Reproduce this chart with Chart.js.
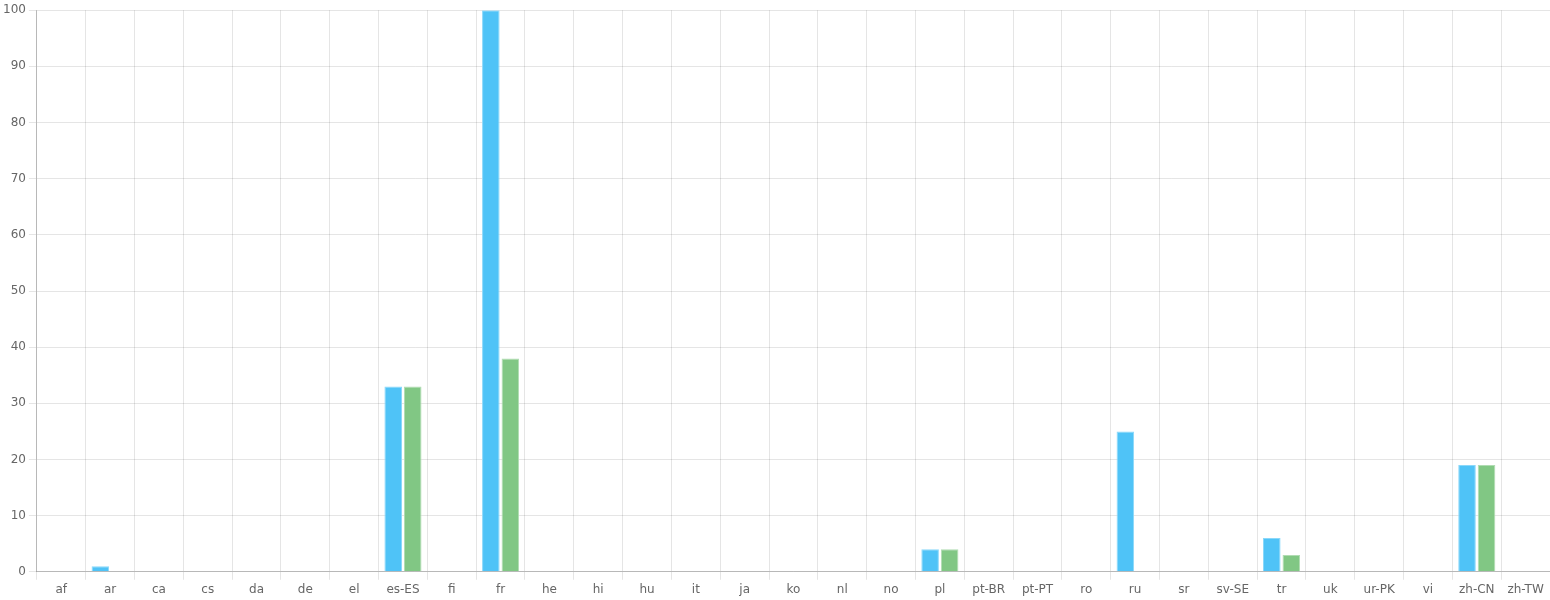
<!DOCTYPE html>
<html><head><meta charset="utf-8">
<script src="https://cdn.jsdelivr.net/npm/chart.js@4"></script>
<style>html,body{margin:0;padding:0;background:#fff}#w{width:1550px;height:600px}</style>
</head><body><div id="w"><canvas id="c"></canvas></div>
<script>
const categories = ["af","ar","ca","cs","da","de","el","es-ES","fi","fr","he","hi","hu","it","ja","ko","nl","no","pl","pt-BR","pt-PT","ro","ru","sr","sv-SE","tr","uk","ur-PK","vi","zh-CN","zh-TW"];
const seriesA = [0,1,0,0,0,0,0,33,0,100,0,0,0,0,0,0,0,0,4,0,0,0,25,0,0,6,0,0,0,19,0];
const seriesB = [0,0,0,0,0,0,0,33,0,38,0,0,0,0,0,0,0,0,4,0,0,0,0,0,0,3,0,0,0,19,0];
const yTicks = [0,10,20,30,40,50,60,70,80,90,100];

Chart.defaults.font.family = "'DejaVu Sans', sans-serif";
Chart.defaults.font.size = 12;
Chart.defaults.color = '#666';
new Chart(document.getElementById('c'), {
  type: 'bar',
  data: {
    labels: categories,
    datasets: [
      {data: seriesA, backgroundColor: '#4FC3F7', borderColor: '#8ad8fa', borderWidth: 1},
      {data: seriesB, backgroundColor: '#81C784', borderColor: '#b0dcb2', borderWidth: 1}
    ]
  },
  options: {
    responsive: true, maintainAspectRatio: false, animation: false,
    plugins: {legend: {display: false}, tooltip: {enabled: false}},
    layout: {padding: {top: 2}},
    scales: {
      x: {grid: {color: 'rgba(0,0,0,0.1)'}, border: {color: 'rgba(0,0,0,0.2)'},
          ticks: {padding: 5, font: {lineHeight: 0.85}}},
      y: {min: 0, max: 100, afterBuildTicks: ax => { ax.ticks = yTicks.map(v => ({value: v})); },
          grid: {color: 'rgba(0,0,0,0.1)'}, border: {color: 'rgba(0,0,0,0.2)'}}
    }
  }
});
</script></body></html>
